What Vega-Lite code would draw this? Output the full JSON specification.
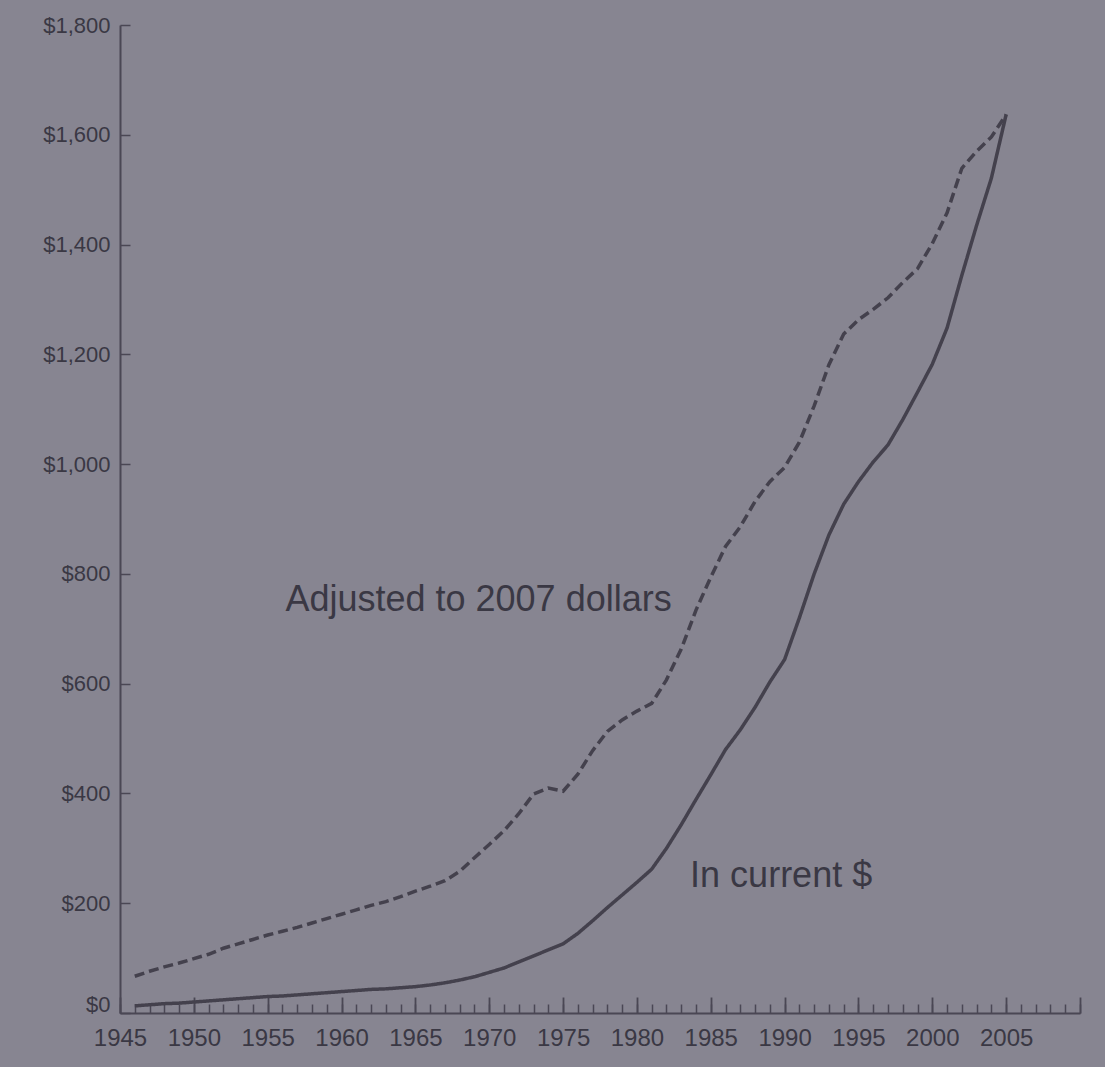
{
  "$schema": "https://vega.github.io/schema/vega-lite/v6.json",
  "width": 960,
  "height": 988,
  "autosize": {"type": "none"},
  "padding": {"left": 120, "top": 25, "right": 25, "bottom": 54},
  "background": "#878591",
  "config": {"view": {"stroke": null}, "font": "Liberation Sans"},
  "datasets": {
    "series": [
      {"series": "Adjusted to 2007 dollars", "year": 1946, "value": 67},
      {"series": "Adjusted to 2007 dollars", "year": 1947, "value": 76},
      {"series": "Adjusted to 2007 dollars", "year": 1948, "value": 84},
      {"series": "Adjusted to 2007 dollars", "year": 1949, "value": 91},
      {"series": "Adjusted to 2007 dollars", "year": 1950, "value": 99},
      {"series": "Adjusted to 2007 dollars", "year": 1951, "value": 107},
      {"series": "Adjusted to 2007 dollars", "year": 1952, "value": 118},
      {"series": "Adjusted to 2007 dollars", "year": 1953, "value": 126},
      {"series": "Adjusted to 2007 dollars", "year": 1954, "value": 134},
      {"series": "Adjusted to 2007 dollars", "year": 1955, "value": 142},
      {"series": "Adjusted to 2007 dollars", "year": 1956, "value": 149},
      {"series": "Adjusted to 2007 dollars", "year": 1957, "value": 156},
      {"series": "Adjusted to 2007 dollars", "year": 1958, "value": 164},
      {"series": "Adjusted to 2007 dollars", "year": 1959, "value": 172},
      {"series": "Adjusted to 2007 dollars", "year": 1960, "value": 180},
      {"series": "Adjusted to 2007 dollars", "year": 1961, "value": 188},
      {"series": "Adjusted to 2007 dollars", "year": 1962, "value": 196},
      {"series": "Adjusted to 2007 dollars", "year": 1963, "value": 203},
      {"series": "Adjusted to 2007 dollars", "year": 1964, "value": 212},
      {"series": "Adjusted to 2007 dollars", "year": 1965, "value": 222},
      {"series": "Adjusted to 2007 dollars", "year": 1966, "value": 231},
      {"series": "Adjusted to 2007 dollars", "year": 1967, "value": 241},
      {"series": "Adjusted to 2007 dollars", "year": 1968, "value": 258},
      {"series": "Adjusted to 2007 dollars", "year": 1969, "value": 283},
      {"series": "Adjusted to 2007 dollars", "year": 1970, "value": 307},
      {"series": "Adjusted to 2007 dollars", "year": 1971, "value": 332},
      {"series": "Adjusted to 2007 dollars", "year": 1972, "value": 363},
      {"series": "Adjusted to 2007 dollars", "year": 1973, "value": 399},
      {"series": "Adjusted to 2007 dollars", "year": 1974, "value": 410},
      {"series": "Adjusted to 2007 dollars", "year": 1975, "value": 404},
      {"series": "Adjusted to 2007 dollars", "year": 1976, "value": 435},
      {"series": "Adjusted to 2007 dollars", "year": 1977, "value": 478},
      {"series": "Adjusted to 2007 dollars", "year": 1978, "value": 513},
      {"series": "Adjusted to 2007 dollars", "year": 1979, "value": 534},
      {"series": "Adjusted to 2007 dollars", "year": 1980, "value": 550},
      {"series": "Adjusted to 2007 dollars", "year": 1981, "value": 564},
      {"series": "Adjusted to 2007 dollars", "year": 1982, "value": 607},
      {"series": "Adjusted to 2007 dollars", "year": 1983, "value": 663},
      {"series": "Adjusted to 2007 dollars", "year": 1984, "value": 734},
      {"series": "Adjusted to 2007 dollars", "year": 1985, "value": 794},
      {"series": "Adjusted to 2007 dollars", "year": 1986, "value": 850},
      {"series": "Adjusted to 2007 dollars", "year": 1987, "value": 886},
      {"series": "Adjusted to 2007 dollars", "year": 1988, "value": 932},
      {"series": "Adjusted to 2007 dollars", "year": 1989, "value": 968},
      {"series": "Adjusted to 2007 dollars", "year": 1990, "value": 994},
      {"series": "Adjusted to 2007 dollars", "year": 1991, "value": 1040},
      {"series": "Adjusted to 2007 dollars", "year": 1992, "value": 1106},
      {"series": "Adjusted to 2007 dollars", "year": 1993, "value": 1181},
      {"series": "Adjusted to 2007 dollars", "year": 1994, "value": 1237},
      {"series": "Adjusted to 2007 dollars", "year": 1995, "value": 1263},
      {"series": "Adjusted to 2007 dollars", "year": 1996, "value": 1282},
      {"series": "Adjusted to 2007 dollars", "year": 1997, "value": 1303},
      {"series": "Adjusted to 2007 dollars", "year": 1998, "value": 1331},
      {"series": "Adjusted to 2007 dollars", "year": 1999, "value": 1356},
      {"series": "Adjusted to 2007 dollars", "year": 2000, "value": 1402},
      {"series": "Adjusted to 2007 dollars", "year": 2001, "value": 1458},
      {"series": "Adjusted to 2007 dollars", "year": 2002, "value": 1539},
      {"series": "Adjusted to 2007 dollars", "year": 2003, "value": 1570},
      {"series": "Adjusted to 2007 dollars", "year": 2004, "value": 1596},
      {"series": "Adjusted to 2007 dollars", "year": 2005, "value": 1637},
      {"series": "In current $", "year": 1946, "value": 13},
      {"series": "In current $", "year": 1947, "value": 15},
      {"series": "In current $", "year": 1948, "value": 17},
      {"series": "In current $", "year": 1949, "value": 18},
      {"series": "In current $", "year": 1950, "value": 20},
      {"series": "In current $", "year": 1951, "value": 22},
      {"series": "In current $", "year": 1952, "value": 24},
      {"series": "In current $", "year": 1953, "value": 26},
      {"series": "In current $", "year": 1954, "value": 28},
      {"series": "In current $", "year": 1955, "value": 30},
      {"series": "In current $", "year": 1956, "value": 31},
      {"series": "In current $", "year": 1957, "value": 33},
      {"series": "In current $", "year": 1958, "value": 35},
      {"series": "In current $", "year": 1959, "value": 37},
      {"series": "In current $", "year": 1960, "value": 39},
      {"series": "In current $", "year": 1961, "value": 41},
      {"series": "In current $", "year": 1962, "value": 43},
      {"series": "In current $", "year": 1963, "value": 44},
      {"series": "In current $", "year": 1964, "value": 46},
      {"series": "In current $", "year": 1965, "value": 48},
      {"series": "In current $", "year": 1966, "value": 51},
      {"series": "In current $", "year": 1967, "value": 55},
      {"series": "In current $", "year": 1968, "value": 60},
      {"series": "In current $", "year": 1969, "value": 66},
      {"series": "In current $", "year": 1970, "value": 74},
      {"series": "In current $", "year": 1971, "value": 82},
      {"series": "In current $", "year": 1972, "value": 93},
      {"series": "In current $", "year": 1973, "value": 104},
      {"series": "In current $", "year": 1974, "value": 115},
      {"series": "In current $", "year": 1975, "value": 126},
      {"series": "In current $", "year": 1976, "value": 145},
      {"series": "In current $", "year": 1977, "value": 168},
      {"series": "In current $", "year": 1978, "value": 192},
      {"series": "In current $", "year": 1979, "value": 215},
      {"series": "In current $", "year": 1980, "value": 238},
      {"series": "In current $", "year": 1981, "value": 262},
      {"series": "In current $", "year": 1982, "value": 300},
      {"series": "In current $", "year": 1983, "value": 343},
      {"series": "In current $", "year": 1984, "value": 389},
      {"series": "In current $", "year": 1985, "value": 434},
      {"series": "In current $", "year": 1986, "value": 480},
      {"series": "In current $", "year": 1987, "value": 516},
      {"series": "In current $", "year": 1988, "value": 557},
      {"series": "In current $", "year": 1989, "value": 603},
      {"series": "In current $", "year": 1990, "value": 644},
      {"series": "In current $", "year": 1991, "value": 720},
      {"series": "In current $", "year": 1992, "value": 800},
      {"series": "In current $", "year": 1993, "value": 871},
      {"series": "In current $", "year": 1994, "value": 927},
      {"series": "In current $", "year": 1995, "value": 968},
      {"series": "In current $", "year": 1996, "value": 1004},
      {"series": "In current $", "year": 1997, "value": 1035},
      {"series": "In current $", "year": 1998, "value": 1081},
      {"series": "In current $", "year": 1999, "value": 1131},
      {"series": "In current $", "year": 2000, "value": 1182},
      {"series": "In current $", "year": 2001, "value": 1248},
      {"series": "In current $", "year": 2002, "value": 1344},
      {"series": "In current $", "year": 2003, "value": 1435},
      {"series": "In current $", "year": 2004, "value": 1521},
      {"series": "In current $", "year": 2005, "value": 1637}
    ],
    "labels": [
      {"label": "Adjusted to 2007 dollars", "year": 1956.2, "value": 752},
      {"label": "In current $", "year": 1983.6, "value": 250}
    ]
  },
  "resolve": {"axis": {"x": "independent"}},
  "layer": [
    {
      "data": {"name": "series"},
      "mark": {"type": "line", "strokeWidth": 3.5, "color": "#44414d"},
      "encoding": {
        "x": {
          "field": "year",
          "type": "quantitative",
          "scale": {"domain": [1945, 2010], "nice": false, "zero": false},
          "axis": {
            "orient": "bottom",
            "title": null,
            "grid": false,
            "values": [1945, 1950, 1955, 1960, 1965, 1970, 1975, 1980, 1985, 1990, 1995, 2000, 2005, 2010],
            "format": "d",
            "labelExpr": "datum.value < 2010 ? datum.label : ''",
            "labelOverlap": false,
            "labelBound": false,
            "labelFlush": false,
            "labelFontSize": 24,
            "labelColor": "#3a3844",
            "labelPadding": 29,
            "tickSize": -16,
            "tickColor": "#4a4754",
            "tickWidth": 1.8,
            "domainColor": "#4a4754",
            "domainWidth": 2
          }
        },
        "y": {
          "field": "value",
          "type": "quantitative",
          "scale": {"domain": [0, 1800], "nice": false},
          "axis": {
            "title": null,
            "grid": false,
            "values": [0, 200, 400, 600, 800, 1000, 1200, 1400, 1600, 1800],
            "format": "$,.0f",
            "labelFontSize": 22,
            "labelColor": "#3a3844",
            "labelPadding": 20,
            "labelOffset": {"condition": {"test": "datum.value === 0", "value": -9}, "value": 0},
            "tickSize": -10,
            "tickColor": "#4a4754",
            "tickWidth": 1.5,
            "domainColor": "#4a4754",
            "domainWidth": 2
          }
        },
        "strokeDash": {
          "field": "series",
          "type": "nominal",
          "scale": {"domain": ["Adjusted to 2007 dollars", "In current $"], "range": [[10, 5], [1, 0]]},
          "legend": null
        }
      }
    },
    {
      "data": {"name": "labels"},
      "mark": {"type": "text", "fontSize": 36, "align": "left", "baseline": "middle", "color": "#3a3844"},
      "encoding": {
        "x": {
          "field": "year",
          "type": "quantitative",
          "axis": {
            "orient": "bottom",
            "title": null,
            "grid": false,
            "labels": false,
            "domain": false,
            "values": [1945,1946,1947,1948,1949,1950,1951,1952,1953,1954,1955,1956,1957,1958,1959,1960,1961,1962,1963,1964,1965,1966,1967,1968,1969,1970,1971,1972,1973,1974,1975,1976,1977,1978,1979,1980,1981,1982,1983,1984,1985,1986,1987,1988,1989,1990,1991,1992,1993,1994,1995,1996,1997,1998,1999,2000,2001,2002,2003,2004,2005,2006,2007,2008,2009,2010],
            "tickSize": -9,
            "tickColor": "#4a4754",
            "tickWidth": 1.5
          }
        },
        "y": {"field": "value", "type": "quantitative"},
        "text": {"field": "label"}
      }
    }
  ]
}
